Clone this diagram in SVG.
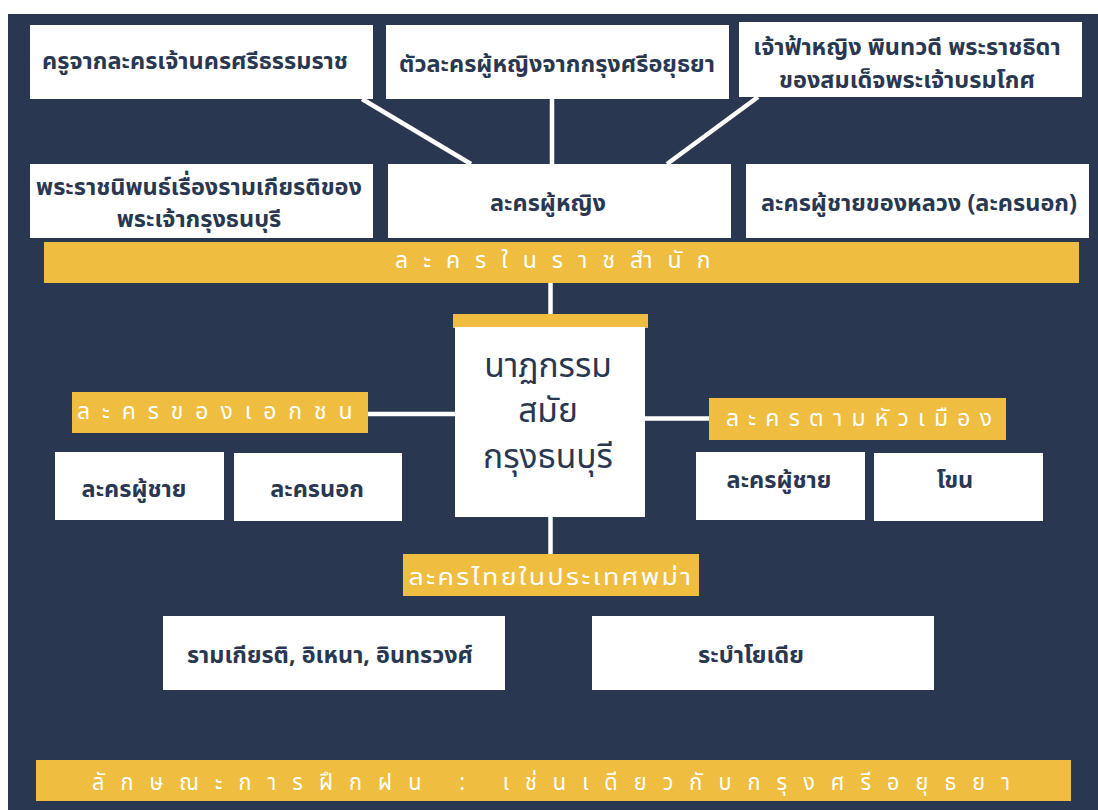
<svg xmlns="http://www.w3.org/2000/svg" width="1098" height="810" viewBox="0 0 1098 810">
<style>
.bg{fill:#ffffff}
.panel{fill:#293850}
.box{fill:#ffffff}
.bar{fill:#efbd3f}
.conn{stroke:#ffffff;stroke-width:4.5;fill:none}
.t{font-family:"Noto Sans Thai","Noto Sans","DejaVu Sans",sans-serif;fill:#293850;font-weight:700;font-size:23.5px;text-anchor:middle}
.c{font-family:"Noto Sans Thai","Noto Sans","DejaVu Sans",sans-serif;fill:#293850;font-weight:400;font-size:33.5px;text-anchor:middle}
.y{font-family:"Noto Sans Thai","Noto Sans","DejaVu Sans",sans-serif;fill:#ffffff;font-weight:400;font-size:23px}
</style>
<rect class="bg" x="0" y="0" width="1098" height="810"/>
<rect class="panel" x="8" y="14" width="1090" height="796"/>

<g id="connectors">
<line class="conn" x1="362" y1="99" x2="471" y2="164"/>
<line class="conn" x1="552" y1="99" x2="552" y2="164"/>
<line class="conn" x1="758" y1="97" x2="667" y2="164"/>
<line class="conn" x1="550.5" y1="283" x2="550.5" y2="314"/>
<line class="conn" x1="368" y1="414" x2="455" y2="414"/>
<line class="conn" x1="645" y1="418.5" x2="709" y2="418.5"/>
<line class="conn" x1="550.5" y1="517" x2="550.5" y2="554"/>
</g>

<g id="n-kru">
<rect class="box" x="30" y="25" width="343" height="74"/>
<text class="t" x="195" y="69">ครูจากละครเจ้านครศรีธรรมราช</text>
</g>
<g id="n-tua">
<rect class="box" x="386" y="25" width="343" height="74"/>
<text class="t" x="557" y="72">ตัวละครผู้หญิงจากกรุงศรีอยุธยา</text>
</g>
<g id="n-chaofa">
<rect class="box" x="739" y="22" width="343" height="75"/>
<text class="t"><tspan x="907" y="55">เจ้าฟ้าหญิง พินทวดี พระราชธิดา</tspan><tspan x="907" y="88">ของสมเด็จพระเจ้าบรมโกศ</tspan></text>
</g>
<g id="n-phra">
<rect class="box" x="30" y="164" width="343" height="74"/>
<text class="t"><tspan x="199" y="195">พระราชนิพนธ์เรื่องรามเกียรติของ</tspan><tspan x="199" y="227">พระเจ้ากรุงธนบุรี</tspan></text>
</g>
<g id="n-ying">
<rect class="box" x="388" y="164" width="343" height="74"/>
<text class="t" x="548" y="211">ละครผู้หญิง</text>
</g>
<g id="n-luang">
<rect class="box" x="746" y="164" width="343" height="74"/>
<text class="t" x="919" y="211">ละครผู้ชายของหลวง (ละครนอก)</text>
</g>
<g id="n-royal">
<rect class="bar" x="44" y="242" width="1035" height="41"/>
<text class="y" x="395" y="268" style="letter-spacing:15px">ละครในราชสำนัก</text>
</g>

<g id="n-center">
<rect class="bar" x="453" y="314" width="195" height="14"/>
<rect class="box" x="455" y="327" width="190" height="190"/>
<text class="c"><tspan x="548" y="377">นาฏกรรม</tspan><tspan x="548" y="422">สมัย</tspan><tspan x="548" y="468">กรุงธนบุรี</tspan></text>
</g>

<g id="n-private">
<rect class="bar" x="72" y="392" width="296" height="41"/>
<text class="y" x="77" y="419" style="letter-spacing:11.9px">ละครของเอกชน</text>
</g>
<g id="n-pchai">
<rect class="box" x="55" y="452" width="169" height="68"/>
<text class="t" x="134" y="497">ละครผู้ชาย</text>
</g>
<g id="n-pnok">
<rect class="box" x="234" y="453" width="168" height="68"/>
<text class="t" x="317" y="497">ละครนอก</text>
</g>

<g id="n-provincial">
<rect class="bar" x="709" y="398" width="297" height="42"/>
<text class="y" x="726" y="426" style="letter-spacing:9.2px">ละครตามหัวเมือง</text>
</g>
<g id="n-rchai">
<rect class="box" x="696" y="452" width="169" height="68"/>
<text class="t" x="779" y="488">ละครผู้ชาย</text>
</g>
<g id="n-khon">
<rect class="box" x="874" y="453" width="169" height="68"/>
<text class="t" x="955" y="488">โขน</text>
</g>

<g id="n-burma">
<rect class="bar" x="403" y="554" width="296" height="42"/>
<text class="y" x="551" y="585" text-anchor="middle" style="letter-spacing:2px" textLength="285" lengthAdjust="spacingAndGlyphs">ละครไทยในประเทศพม่า</text>
</g>
<g id="n-ram">
<rect class="box" x="163" y="616" width="342" height="74"/>
<text class="t" x="330" y="663" textLength="286" lengthAdjust="spacingAndGlyphs">รามเกียรติ, อิเหนา, อินทรวงศ์</text>
</g>
<g id="n-rabam">
<rect class="box" x="592" y="616" width="342" height="74"/>
<text class="t" x="751" y="663" textLength="106" lengthAdjust="spacingAndGlyphs">ระบำโยเดีย</text>
</g>

<g id="n-training">
<rect class="bar" x="36" y="760" width="1035" height="41"/>
<text class="y" x="92" y="790" style="letter-spacing:17px" textLength="934" lengthAdjust="spacingAndGlyphs">ลักษณะการฝึกฝน : เช่นเดียวกับกรุงศรีอยุธยา</text>
</g>
</svg>
